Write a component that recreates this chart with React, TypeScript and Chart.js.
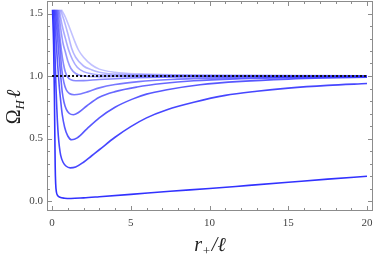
import React, { useEffect, useRef } from "react";
import { Chart, registerables } from "chart.js";

Chart.register(...registerables);

// Ω_H ℓ curves, each point is [r+/ℓ, Ω_H ℓ], darkest first
const curve1: number[][] = [[0.03,1.53],[0.1,1.25],[0.15,0.85],[0.18,0.5],[0.2,0.28],[0.23,0.14],[0.28,0.07],[0.35,0.045],[0.5,0.03],[0.8,0.022],[1.2,0.02],[2,0.025],[3,0.034],[5,0.053],[7.5,0.078],[10,0.1],[12.5,0.125],[15,0.15],[17.5,0.175],[20,0.198]];
const curve2: number[][] = [[0.1,1.53],[0.18,1.2],[0.24,0.95],[0.29,0.78],[0.34,0.64],[0.4,0.52],[0.47,0.43],[0.55,0.365],[0.7,0.31],[0.9,0.278],[1.15,0.265],[1.5,0.272],[2,0.31],[2.5,0.36],[3,0.41],[4,0.51],[5,0.595],[6,0.665],[7.3,0.73],[9,0.79],[11,0.845],[13,0.878],[15,0.903],[17.5,0.925],[20,0.94]];
const curve3: number[][] = [[0.16,1.53],[0.25,1.3],[0.35,1.1],[0.45,0.93],[0.55,0.8],[0.65,0.69],[0.8,0.59],[1.0,0.52],[1.25,0.49],[1.6,0.505],[2.2,0.575],[3,0.665],[4,0.75],[5.1,0.815],[6,0.855],[7.3,0.89],[9.4,0.93],[12,0.957],[15,0.975],[17.5,0.984],[20,0.99]];
const curve4: number[][] = [[0.22,1.53],[0.32,1.35],[0.45,1.15],[0.55,1.0],[0.65,0.87],[0.76,0.79],[0.9,0.735],[1.1,0.7],[1.35,0.69],[1.7,0.71],[2.2,0.76],[3,0.83],[4,0.875],[5.4,0.912],[7,0.94],[9,0.962],[12,0.978],[15,0.987],[20,0.994]];
const curve5: number[][] = [[0.28,1.53],[0.4,1.35],[0.52,1.2],[0.62,1.05],[0.75,0.95],[0.9,0.89],[1.1,0.86],[1.4,0.85],[1.8,0.856],[2.3,0.875],[3,0.905],[4,0.932],[5.5,0.955],[7.5,0.972],[10,0.983],[15,0.993],[20,0.997]];
const curve6: number[][] = [[0.34,1.53],[0.47,1.35],[0.6,1.2],[0.72,1.1],[0.85,1.03],[1.0,0.99],[1.2,0.97],[1.5,0.962],[2,0.963],[3,0.972],[5,0.984],[8,0.992],[12,0.996],[20,0.999]];
const curve7: number[][] = [[0.4,1.53],[0.55,1.38],[0.7,1.26],[0.85,1.19],[1.0,1.12],[1.2,1.06],[1.5,1.02],[2,1.0],[3,0.995],[5,0.996],[10,0.999],[20,1.0]];
const curve8: number[][] = [[0.46,1.53],[0.65,1.4],[0.85,1.3],[1.05,1.21],[1.3,1.13],[1.6,1.07],[2,1.035],[3,1.01],[5,1.003],[10,1.001],[20,1.0]];
const curve9: number[][] = [[0.53,1.53],[0.75,1.45],[1.0,1.34],[1.25,1.22],[1.5,1.15],[2,1.08],[2.5,1.05],[3,1.03],[4,1.015],[6,1.007],[10,1.003],[20,1.001]];
const curve10: number[][] = [[0.6,1.53],[0.85,1.47],[1.1,1.39],[1.4,1.29],[1.67,1.21],[2,1.15],[2.5,1.09],[3,1.055],[4,1.03],[5.5,1.017],[8,1.009],[12,1.005],[20,1.002]];
const curves = [curve1, curve2, curve3, curve4, curve5, curve6, curve7, curve8, curve9, curve10];
const curveAlphas = [1.0, 0.9, 0.82, 0.74, 0.66, 0.58, 0.5, 0.42, 0.36, 0.3];

// dotted reference line Ω_H ℓ = 1
const boundLine: number[][] = [[0, 1], [20, 1]];

// axes
const xRange = [-0.32, 20.38];
const yRange = [-0.08, 1.6];
const xMajorTicks = [0, 5, 10, 15, 20];
const xMinorTicks = [1, 2, 3, 4, 6, 7, 8, 9, 11, 12, 13, 14, 16, 17, 18, 19];
const yMajorTicks = [0, 0.5, 1.0, 1.5];
const yMinorTicks = [0.1, 0.2, 0.3, 0.4, 0.6, 0.7, 0.8, 0.9, 1.1, 1.2, 1.3, 1.4];
const xTickLabels = ["0", "5", "10", "15", "20"];
const yTickLabels = ["0.0", "0.5", "1.0", "1.5"];

const SERIF = '"Liberation Serif", "DejaVu Serif", serif';

const framePlugin = {
  id: "frameTicks",
  afterDraw(chart: any) {
    const { ctx, chartArea } = chart;
    const xs = chart.scales.x;
    const ys = chart.scales.y;
    const { left, right, top, bottom } = chartArea;
    ctx.save();
    ctx.strokeStyle = "#8c8c8c";
    ctx.lineWidth = 1;
    ctx.strokeRect(left + 0.5, top + 0.5, right - left - 1, bottom - top - 1);
    const tick = (x1: number, y1: number, x2: number, y2: number) => {
      ctx.beginPath();
      ctx.moveTo(x1, y1);
      ctx.lineTo(x2, y2);
      ctx.stroke();
    };
    xMajorTicks.forEach((v) => {
      const p = Math.round(xs.getPixelForValue(v)) + 0.5;
      tick(p, bottom, p, bottom - 5);
      tick(p, top, p, top + 5);
    });
    xMinorTicks.forEach((v) => {
      const p = Math.round(xs.getPixelForValue(v)) + 0.5;
      tick(p, bottom, p, bottom - 3);
      tick(p, top, p, top + 3);
    });
    yMajorTicks.forEach((v) => {
      const p = Math.round(ys.getPixelForValue(v)) + 0.5;
      tick(left, p, left + 5, p);
      tick(right, p, right - 5, p);
    });
    yMinorTicks.forEach((v) => {
      const p = Math.round(ys.getPixelForValue(v)) + 0.5;
      tick(left, p, left + 3, p);
      tick(right, p, right - 3, p);
    });

    // axis titles
    ctx.fillStyle = "#222";
    ctx.textBaseline = "alphabetic";
    ctx.textAlign = "left";
    const big = `italic 20px ${SERIF}`;
    const small = `italic 13px ${SERIF}`;
    // x title: r_+/ℓ
    {
      ctx.font = big;
      const wr = ctx.measureText("r").width;
      ctx.font = small;
      const wp = ctx.measureText("+").width;
      ctx.font = big;
      const wl = ctx.measureText("/ℓ").width;
      const total = wr + wp + 1 + wl;
      const cx = (left + right) / 2;
      let x = cx - total / 2;
      const base = 251;
      ctx.font = big;
      ctx.fillText("r", x, base);
      x += wr;
      ctx.font = small;
      ctx.fillText("+", x, base + 4);
      x += wp + 1;
      ctx.font = big;
      ctx.fillText("/ℓ", x, base);
    }
    // y title: Ω_H ℓ
    {
      ctx.save();
      ctx.translate(20, 107);
      ctx.rotate(-Math.PI / 2);
      ctx.font = `20px ${SERIF}`;
      const wo = ctx.measureText("Ω").width;
      ctx.font = small;
      const wh = ctx.measureText("H").width;
      ctx.font = big;
      const wl = ctx.measureText("ℓ").width;
      const total = wo + wh + 2 + wl;
      let x = -total / 2;
      ctx.font = `20px ${SERIF}`;
      ctx.fillText("Ω", x, 0);
      x += wo;
      ctx.font = small;
      ctx.fillText("H", x, 4);
      x += wh + 2;
      ctx.font = big;
      ctx.fillText("ℓ", x, 0);
      ctx.restore();
    }
    ctx.restore();
  },
};

export default function App() {
  const ref = useRef<HTMLCanvasElement | null>(null);
  useEffect(() => {
    document.body.style.margin = "0";
    const canvas = ref.current;
    if (!canvas) return;
    const datasets: any[] = [
      {
        data: boundLine.map(([x, y]) => ({ x, y })),
        borderColor: "#111",
        borderWidth: 2,
        borderDash: [2, 2],
        pointRadius: 0,
        order: 0,
      },
    ];
    curves.forEach((c, i) => {
      datasets.push({
        data: c.map(([x, y]) => ({ x, y })),
        borderColor: `rgba(50,50,255,${curveAlphas[i]})`,
        borderWidth: 1.6,
        pointRadius: 0,
        cubicInterpolationMode: "monotone",
        order: 1 + i,
      });
    });
    const chart = new Chart(canvas, {
      type: "line",
      data: { datasets },
      options: {
        responsive: false,
        animation: false,
        layout: { padding: { top: 1, right: 1, left: 0, bottom: 0 } },
        plugins: { legend: { display: false }, tooltip: { enabled: false } },
        scales: {
          x: {
            type: "linear",
            min: xRange[0],
            max: xRange[1],
            grid: { display: false, drawTicks: false },
            border: { display: false },
            afterBuildTicks: (s: any) => {
              s.ticks = xMajorTicks.map((v) => ({ value: v }));
            },
            afterFit: (s: any) => {
              s.height = 50;
              s.paddingLeft = 0;
              s.paddingRight = 0;
            },
            ticks: {
              padding: 6,
              maxRotation: 0,
              autoSkip: false,
              color: "#444",
              font: { family: SERIF, size: 11 },
              callback: (v: any) => {
                const i = xMajorTicks.indexOf(Number(v));
                return i >= 0 ? xTickLabels[i] : "";
              },
            },
          },
          y: {
            type: "linear",
            min: yRange[0],
            max: yRange[1],
            grid: { display: false, drawTicks: false },
            border: { display: false },
            afterBuildTicks: (s: any) => {
              s.ticks = yMajorTicks.map((v) => ({ value: v }));
            },
            afterFit: (s: any) => {
              s.width = 47;
              s.paddingTop = 0;
              s.paddingBottom = 0;
            },
            ticks: {
              padding: 4,
              autoSkip: false,
              color: "#444",
              font: { family: SERIF, size: 11 },
              callback: (v: any) => {
                const i = yMajorTicks.findIndex((t) => Math.abs(t - Number(v)) < 1e-9);
                return i >= 0 ? yTickLabels[i] : "";
              },
            },
          },
        },
      },
      plugins: [framePlugin],
    });
    return () => chart.destroy();
  }, []);
  return (
    <div style={{ width: 374, height: 261 }}>
      <canvas ref={ref} width={374} height={261} style={{ display: "block" }} />
    </div>
  );
}
